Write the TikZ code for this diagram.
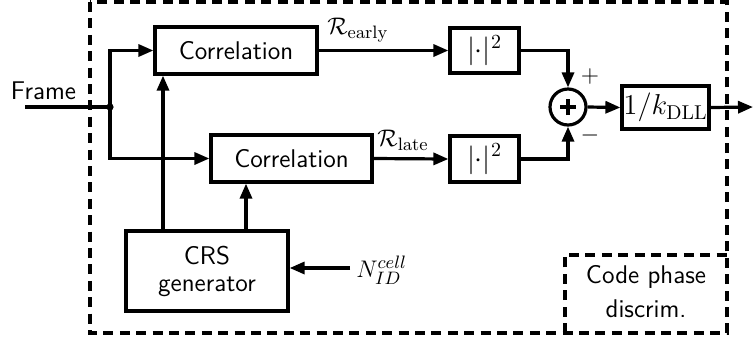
\documentclass[tikz,border=0pt]{standalone}
\usetikzlibrary{arrows.meta}
\begin{document}
\begin{tikzpicture}[x=0.5pt,y=-0.5pt,
  font=\fontsize{12.8}{15}\selectfont\sffamily,
  blk/.style={draw,line width=1.6pt,inner sep=0pt,align=center},
  sig/.style={line width=1.6pt,-{Triangle[length=7.5pt,width=6pt]}},
  wire/.style={line width=1.6pt},
  frame/.style={draw,line width=1.6pt,dash pattern=on 5pt off 3.2pt},
  bigmath/.style={font=\fontsize{14}{16}\selectfont},
  lbl/.style={inner sep=0pt}]
\useasboundingbox (0,0) rectangle (753,339);

% processing blocks
\node[blk,minimum width=81pt,minimum height=23.5pt] (corr1) at (236,50.5) {Correlation};
\node[blk,minimum width=80.5pt,minimum height=23.5pt] (corr2) at (291.5,158.5) {Correlation};
\node[blk,bigmath,minimum width=34.5pt,minimum height=22.5pt] (sq1) at (484.5,50.5) {$|{\cdot}|^2$};
\node[blk,bigmath,minimum width=34.5pt,minimum height=23pt] (sq2) at (484.5,159) {$|{\cdot}|^2$};
\node[blk,circle,minimum size=18pt] (sum) at (568,107) {};
\node[blk,bigmath,minimum width=43.5pt,minimum height=21.5pt] (kdll) at (665.5,107.5) {$1/k_{\mathrm{DLL}}$};
\node[blk,minimum width=81pt,minimum height=40pt,align=center] (crs) at (207,271)
  {CRS\\[-1.5pt]generator};

% plus sign inside the adder
\draw[line width=1.6pt] ([xshift=-4pt]sum.center) -- ([xshift=4pt]sum.center)
  ([yshift=-4pt]sum.center) -- ([yshift=4pt]sum.center);

% dashed enclosures
\draw[frame] (90,2) rectangle (727,333);
\draw[frame] (565,333) -- (565,255) -- (727,255);
\node[lbl,align=center] (cpd) at (646,292) {Code phase\\[2pt]discrim.};

% input and split point
\node[lbl] (framelbl) at (43.5,91) {Frame};
\coordinate (fin) at (25,107);
\coordinate (split) at (110,107);
\fill (split) circle (1.8pt);
\draw[wire] (fin) -- (split);
\draw[sig] (split) |- (corr1.west);
\draw[sig] (split) |- (corr2.west);

% reference sequence feeds
\coordinate (crsA) at (163,231);
\coordinate (crsB) at (246,231);
\draw[sig] (crsA) -- (crsA |- corr1.south);
\draw[sig] (crsB) -- (crsB |- corr2.south);
\coordinate (nid) at (350,268);
\draw[sig] (nid) -- (crs.east |- nid);
\node[lbl,anchor=west] (nidlbl) at (356,270) {$N_{ID}^{cell}$};

% early / late paths
\draw[sig] (corr1.east) -- (sq1.west);
\draw[sig] (corr2.east) -- (sq2.west);
\node[lbl,anchor=base] (rearly) at (358,34) {$\mathcal{R}_{\mathrm{early}}$};
\node[lbl,anchor=base] (rlate) at (403,146) {$\mathcal{R}_{\mathrm{late}}$};
\draw[sig] (sq1.east) -| (sum.north);
\draw[sig] (sq2.east) -| (sum.south);
\node[lbl] (plus) at (590,76) {$+$};
\node[lbl] (minus) at (590,135) {$-$};

% discriminator output
\coordinate (out) at (753,107);
\draw[sig] (sum.east) -- (kdll.west);
\draw[sig] (kdll.east) -- (out);
\end{tikzpicture}
\end{document}
